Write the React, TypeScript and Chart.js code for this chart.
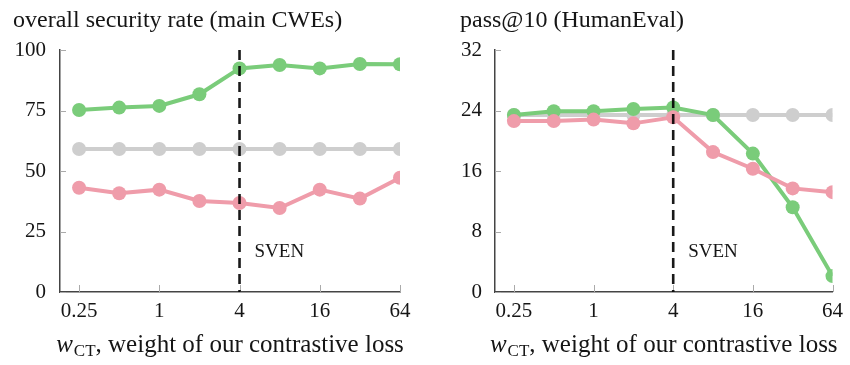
import React, { useEffect, useRef } from "react";
import { Chart, registerables } from "chart.js";

Chart.register(...registerables);

const weights = [0.25, 0.5, 1, 2, 4, 8, 16, 32, 64];
const xTickValues = [0.25, 1, 4, 16, 64];

const secTicks = [0, 25, 50, 75, 100];
const secGreen = [75.2, 76.2, 76.9, 81.7, 92.4, 93.8, 92.4, 94.2, 94.1];
const secGray = [59.1, 59.1, 59.1, 59.1, 59.1, 59.1, 59.1, 59.1, 59.1];
const secPink = [43.1, 40.8, 42.3, 37.6, 36.8, 34.7, 42.3, 38.6, 47.2];

const passTicks = [0, 8, 16, 24, 32];
const passGreen = [23.4, 23.9, 23.9, 24.2, 24.4, 23.4, 18.3, 11.2, 2.1];
const passGray = [23.4, 23.4, 23.4, 23.4, 23.4, 23.4, 23.4, 23.4, 23.4];
const passPink = [22.6, 22.6, 22.8, 22.3, 23.1, 18.5, 16.3, 13.7, 13.2];

const svenWeight = 4;
const svenLabel = "SVEN";

const GREEN = "rgb(122,204,122)";
const PINK = "rgb(239,156,170)";
const GRAY = "rgb(206,206,206)";
const FONT = "'Liberation Serif', 'DejaVu Serif', serif";
const TEXT = "#151515";

const decoPlugin = {
  id: "deco",
  afterDatasetsDraw(chart: any) {
    const o = chart.options.plugins.deco;
    const ctx = chart.ctx;
    const xs = chart.scales.x;
    const ys = chart.scales.y;
    const area = chart.chartArea;
    ctx.save();
    // inner tick marks
    ctx.strokeStyle = "#aaaaaa";
    ctx.lineWidth = 1;
    o.yTicks.forEach((v: number) => {
      const y = Math.round(ys.getPixelForValue(v)) + 0.5;
      ctx.beginPath();
      ctx.moveTo(area.left, y);
      ctx.lineTo(area.left + 6, y);
      ctx.stroke();
    });
    o.xTicks.forEach((v: number) => {
      const x = Math.round(xs.getPixelForValue(v)) + 0.5;
      ctx.beginPath();
      ctx.moveTo(x, area.bottom);
      ctx.lineTo(x, area.bottom - 7);
      ctx.stroke();
    });
    // dashed SVEN line
    const sx = xs.getPixelForValue(o.vline);
    ctx.strokeStyle = "rgba(0,0,0,0.9)";
    ctx.lineWidth = 2.6;
    ctx.setLineDash([10, 6]);
    ctx.beginPath();
    ctx.moveTo(sx, area.top);
    ctx.lineTo(sx, area.bottom);
    ctx.stroke();
    ctx.setLineDash([]);
    ctx.fillStyle = TEXT;
    ctx.font = "19px " + FONT;
    ctx.textBaseline = "alphabetic";
    ctx.textAlign = "left";
    ctx.fillText(o.vlabel, sx + 15, 257);
    // title
    ctx.font = "24px " + FONT;
    ctx.textBaseline = "middle";
    ctx.fillText(o.title, o.titleX, 21);
    // x axis title: w_CT, weight of our contrastive loss
    const big = "25px " + FONT;
    const ital = "italic 25px " + FONT;
    const small = "17px " + FONT;
    const rest = ", weight of our contrastive loss";
    ctx.font = ital;
    const w1 = ctx.measureText("w").width;
    ctx.font = small;
    const w2 = ctx.measureText("CT").width;
    ctx.font = big;
    const w3 = ctx.measureText(rest).width;
    const total = w1 + w2 + w3 + 1;
    let x0 = (area.left + area.right) / 2 - total / 2;
    const base = 352;
    ctx.textBaseline = "alphabetic";
    ctx.font = ital;
    ctx.fillText("w", x0, base);
    x0 += w1 + 1;
    ctx.font = small;
    ctx.fillText("CT", x0, base + 4);
    x0 += w2;
    ctx.font = big;
    ctx.fillText(rest, x0, base);
    ctx.restore();
  },
};

function makeConfig(
  green: number[],
  gray: number[],
  pink: number[],
  yTicks: number[],
  title: string,
  titleX: number,
  axisWidth: number,
  rightPad: number,
  yPad: number
): any {
  const ds = (label: string, data: number[], color: string) => ({
    label,
    data: weights.map((w, i) => ({ x: w, y: data[i] })),
    borderColor: color,
    backgroundColor: color,
    pointBackgroundColor: color,
    pointBorderColor: color,
    borderWidth: 4,
    pointRadius: 7,
    pointBorderWidth: 0,
    tension: 0,
  });
  return {
    type: "line",
    data: {
      datasets: [ds("pink", pink, PINK), ds("green", green, GREEN), ds("gray", gray, GRAY)],
    },
    options: {
      responsive: false,
      animation: false,
      devicePixelRatio: 1,
      layout: { padding: { top: 50, right: rightPad, left: 0, bottom: 0 } },
      plugins: {
        legend: { display: false },
        tooltip: { enabled: false },
        title: { display: false },
        deco: { yTicks, xTicks: xTickValues, vline: svenWeight, vlabel: svenLabel, title, titleX },
      },
      scales: {
        x: {
          type: "logarithmic",
          min: 0.25 / Math.pow(2, 0.475),
          max: 64,
          grid: { display: false, drawTicks: false },
          border: { display: true, color: "#444", width: 1.5 },
          afterBuildTicks: (s: any) => {
            s.ticks = xTickValues.map((v) => ({ value: v }));
          },
          afterFit: (s: any) => {
            s.height = 73;
          },
          ticks: {
            autoSkip: false,
            maxRotation: 0,
            padding: 7,
            color: TEXT,
            font: { family: FONT, size: 21 },
            callback: (v: any) => String(v),
          },
        },
        y: {
          type: "linear",
          min: yTicks[0],
          max: yTicks[yTicks.length - 1],
          grid: { display: false, drawTicks: false },
          border: { display: true, color: "#444", width: 1.5 },
          afterBuildTicks: (s: any) => {
            s.ticks = yTicks.map((v) => ({ value: v }));
          },
          afterFit: (s: any) => {
            s.width = axisWidth;
          },
          ticks: {
            padding: yPad,
            color: TEXT,
            font: { family: FONT, size: 21 },
            callback: (v: any) => String(v),
          },
        },
      },
    },
    plugins: [decoPlugin],
  };
}

function Panel({ config, left }: { config: any; left: number }) {
  const ref = useRef<HTMLCanvasElement | null>(null);
  useEffect(() => {
    if (!ref.current) return;
    const chart = new Chart(ref.current, config);
    return () => chart.destroy();
  }, []);
  return (
    <canvas
      ref={ref}
      width={425}
      height={365}
      style={{ position: "absolute", left, top: 0, width: 425, height: 365 }}
    />
  );
}

export default function App() {
  const secConfig = makeConfig(
    secGreen, secGray, secPink, secTicks,
    "overall security rate (main CWEs)", 13, 60, 25, 14
  );
  const passConfig = makeConfig(
    passGreen, passGray, passPink, passTicks,
    "pass@10 (HumanEval)", 35, 70, 14, 13
  );
  return (
    <div style={{ position: "absolute", left: 0, top: 0, width: 850, height: 365, background: "#fff" }}>
      <Panel config={secConfig} left={0} />
      <Panel config={passConfig} left={425} />
    </div>
  );
}
